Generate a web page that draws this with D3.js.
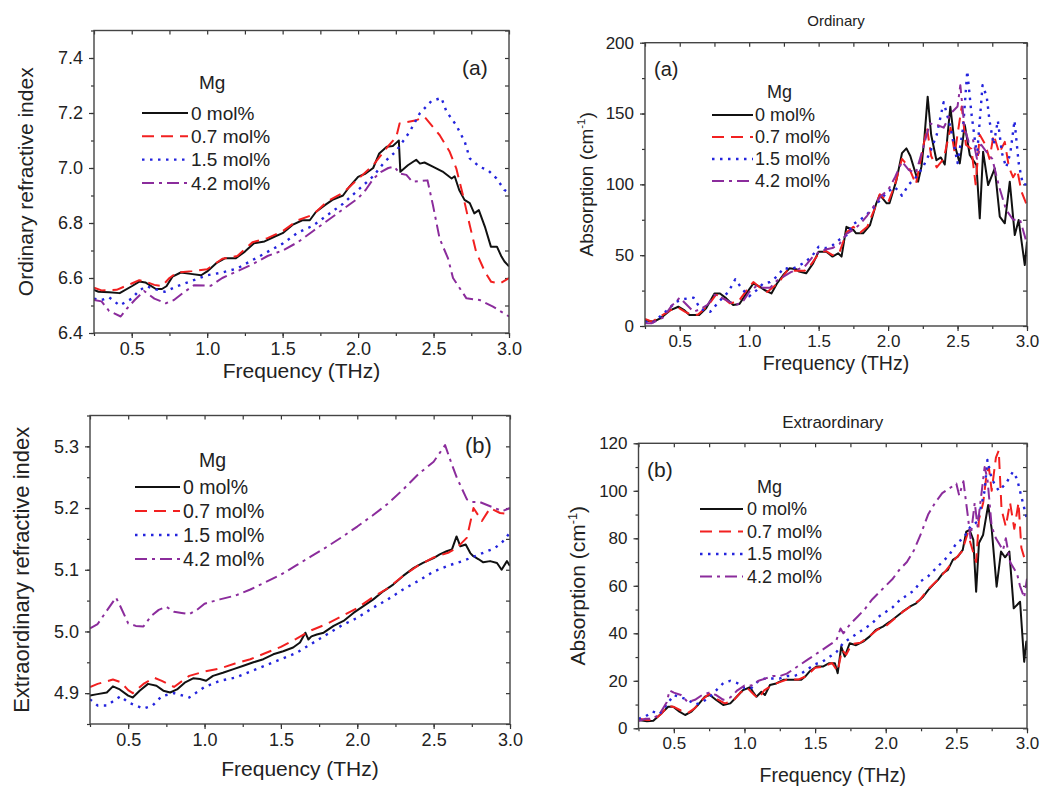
<!DOCTYPE html>
<html><head><meta charset="utf-8">
<script src="https://cdn.jsdelivr.net/npm/d3@7"></script>
<style>
body{margin:0;background:#fff;}
text{font-family:"Liberation Sans",Arial,sans-serif;fill:#222;}
</style></head>
<body><svg id="c" width="1046" height="789"></svg>
<script>
// ---------- DATA ----------
const seriesLabels = ['0 mol%','0.7 mol%','1.5 mol%','4.2 mol%'];
const xTicks = [0.5,1.0,1.5,2.0,2.5,3.0];
const p1YTicks = [6.4,6.6,6.8,7.0,7.2,7.4];
const p2YTicks = [0,50,100,150,200];
const p3YTicks = [4.9,5.0,5.1,5.2,5.3];
const p4YTicks = [0,20,40,60,80,100,120];

// Panel 1: ordinary refractive index [freq THz, n]
const ordIndex0 = [[0.25,6.557],[0.28,6.55],[0.35,6.548],[0.42,6.545],[0.5,6.57],[0.55,6.587],[0.59,6.584],[0.66,6.56],[0.7,6.56],[0.73,6.57],[0.77,6.605],[0.825,6.62],[0.89,6.615],[0.96,6.61],[1.0,6.624],[1.06,6.654],[1.12,6.672],[1.19,6.672],[1.25,6.696],[1.31,6.726],[1.38,6.733],[1.445,6.75],[1.5,6.763],[1.565,6.793],[1.63,6.81],[1.68,6.81],[1.72,6.84],[1.78,6.865],[1.83,6.884],[1.9,6.9],[1.94,6.93],[2.0,6.968],[2.05,6.98],[2.1,7.0],[2.14,7.053],[2.19,7.077],[2.23,7.08],[2.26,7.095],[2.27,7.1],[2.28,6.986],[2.33,7.01],[2.385,7.03],[2.41,7.016],[2.44,7.02],[2.495,7.005],[2.56,6.987],[2.62,6.962],[2.64,6.97],[2.67,6.92],[2.705,6.884],[2.74,6.872],[2.77,6.835],[2.8,6.847],[2.84,6.787],[2.88,6.714],[2.92,6.714],[2.95,6.678],[2.97,6.66],[3.0,6.642]];
const ordIndex07 = [[0.25,6.565],[0.3,6.555],[0.4,6.557],[0.5,6.58],[0.55,6.592],[0.6,6.585],[0.65,6.575],[0.7,6.57],[0.75,6.6],[0.8,6.62],[0.9,6.625],[1.0,6.632],[1.1,6.67],[1.2,6.68],[1.3,6.73],[1.4,6.745],[1.5,6.77],[1.6,6.81],[1.7,6.83],[1.8,6.88],[1.9,6.91],[2.0,6.96],[2.1,7.01],[2.2,7.08],[2.253,7.113],[2.275,7.162],[2.386,7.174],[2.44,7.186],[2.54,7.12],[2.607,7.059],[2.651,6.998],[2.695,6.901],[2.74,6.792],[2.782,6.695],[2.84,6.623],[2.882,6.586],[2.94,6.58],[3.0,6.6]];
const ordIndex15 = [[0.25,6.525],[0.3,6.52],[0.35,6.53],[0.42,6.50],[0.5,6.525],[0.55,6.555],[0.6,6.57],[0.65,6.56],[0.72,6.55],[0.8,6.57],[0.9,6.59],[1.0,6.61],[1.1,6.62],[1.2,6.635],[1.3,6.665],[1.4,6.695],[1.5,6.725],[1.6,6.765],[1.7,6.79],[1.8,6.83],[1.9,6.87],[2.0,6.92],[2.1,6.97],[2.175,7.022],[2.25,7.06],[2.341,7.131],[2.408,7.198],[2.485,7.243],[2.552,7.255],[2.585,7.206],[2.651,7.155],[2.707,7.095],[2.74,7.035],[2.806,7.004],[2.861,6.992],[2.917,6.962],[2.97,6.92],[3.0,6.91]];
const ordIndex42 = [[0.25,6.52],[0.3,6.515],[0.35,6.48],[0.427,6.46],[0.47,6.49],[0.52,6.52],[0.582,6.553],[0.65,6.525],[0.726,6.508],[0.78,6.52],[0.85,6.55],[0.914,6.574],[1.025,6.572],[1.1,6.6],[1.2,6.625],[1.3,6.65],[1.4,6.68],[1.5,6.70],[1.6,6.73],[1.7,6.77],[1.8,6.81],[1.9,6.85],[2.0,6.89],[2.05,6.92],[2.1,6.96],[2.15,6.985],[2.2,7.0],[2.24,7.005],[2.275,6.98],[2.32,6.975],[2.36,6.95],[2.46,6.955],[2.496,6.865],[2.54,6.744],[2.596,6.671],[2.629,6.6],[2.718,6.526],[2.806,6.52],[2.894,6.496],[3.0,6.46]];

// Panel 2: ordinary absorption [freq THz, cm-1]
const ordAbs0 = [[0.25,4],[0.31,3],[0.36,5.4],[0.43,11],[0.49,13.6],[0.535,11],[0.57,7.8],[0.64,7.8],[0.69,12.5],[0.75,23],[0.79,23],[0.835,19.5],[0.885,14.8],[0.93,15.5],[0.98,23],[1.03,30],[1.075,27.8],[1.11,25.4],[1.16,23],[1.2,30],[1.245,36],[1.29,40.7],[1.34,40],[1.36,38.4],[1.41,37.2],[1.46,44.2],[1.5,52.5],[1.555,52.5],[1.6,49],[1.64,51.3],[1.665,49],[1.7,70],[1.75,67.8],[1.77,65.4],[1.82,65.4],[1.87,71.3],[1.915,86.6],[1.94,92.5],[1.99,86.6],[2.01,86.6],[2.06,103],[2.1,122],[2.132,125.4],[2.16,120],[2.216,101.9],[2.24,112.5],[2.26,131],[2.285,161.9],[2.31,135],[2.348,117],[2.38,119],[2.408,114],[2.448,154.8],[2.48,127.7],[2.516,114.8],[2.552,141.9],[2.588,120.7],[2.636,113.6],[2.66,76],[2.684,123],[2.72,99.5],[2.768,111.3],[2.804,77.2],[2.84,72.5],[2.876,101.9],[2.912,64.2],[2.94,74.8],[2.984,43],[3.0,59.5]];
const ordAbs07 = [[0.25,5],[0.3,3],[0.35,6],[0.43,11],[0.49,13],[0.54,10],[0.58,8],[0.63,8],[0.7,14],[0.76,22],[0.8,21],[0.86,16],[0.92,17],[0.98,25],[1.03,31],[1.08,27],[1.13,24],[1.18,28],[1.23,33],[1.28,40],[1.33,39],[1.4,39],[1.45,44],[1.5,51],[1.55,53],[1.6,50],[1.65,52],[1.7,66],[1.75,70],[1.8,66],[1.85,70],[1.9,82],[1.94,93],[2.0,87],[2.05,100],[2.1,118],[2.15,112],[2.2,100],[2.25,125],[2.28,140],[2.31,120],[2.35,112],[2.4,118],[2.45,140],[2.48,122],[2.53,155],[2.56,128],[2.6,125],[2.63,100],[2.66,135],[2.7,128],[2.73,118],[2.76,135],[2.8,122],[2.84,130],[2.87,112],[2.9,105],[2.93,110],[2.96,95],[3.0,85]];
const ordAbs15 = [[0.25,3],[0.3,2],[0.35,6],[0.42,12],[0.47,17],[0.53,19],[0.6,20],[0.65,12],[0.72,10],[0.78,17],[0.85,24],[0.9,33],[0.95,26],[1.0,21],[1.05,25],[1.1,30],[1.15,31],[1.2,35],[1.25,41],[1.3,40],[1.35,42],[1.4,45],[1.45,49],[1.5,56],[1.55,55],[1.6,57],[1.65,61],[1.7,64],[1.75,72],[1.8,75],[1.85,79],[1.9,84],[1.95,90],[2.0,95],[2.05,98],[2.1,92],[2.15,100],[2.2,105],[2.25,112],[2.3,122],[2.35,135],[2.4,158],[2.45,140],[2.5,115],[2.54,140],[2.57,180],[2.6,150],[2.64,120],[2.68,170],[2.71,162],[2.73,145],[2.76,128],[2.79,145],[2.82,122],[2.85,112],[2.88,122],[2.91,145],[2.94,115],[2.97,100],[3.0,100]];
const ordAbs42 = [[0.25,2],[0.3,2],[0.38,6],[0.44,14],[0.5,20],[0.55,15],[0.6,10],[0.65,12],[0.7,15],[0.75,22],[0.8,20],[0.86,17],[0.91,15],[0.96,18],[1.0,24],[1.05,28],[1.1,27],[1.15,27],[1.2,32],[1.25,35],[1.3,38],[1.35,40],[1.4,42],[1.45,48],[1.5,52],[1.55,54],[1.6,55],[1.65,58],[1.7,65],[1.75,68],[1.8,72],[1.85,78],[1.9,85],[1.95,92],[2.0,96],[2.05,105],[2.1,116],[2.15,110],[2.2,108],[2.25,125],[2.3,143],[2.35,142],[2.4,140],[2.45,150],[2.5,155],[2.52,170],[2.55,140],[2.58,130],[2.61,132],[2.64,118],[2.67,128],[2.7,124],[2.75,118],[2.8,98],[2.85,82],[2.9,75],[2.95,75],[3.0,58]];

// Panel 3: extraordinary refractive index
const extIndex0 = [[0.25,4.896],[0.29,4.898],[0.36,4.901],[0.4,4.911],[0.445,4.906],[0.5,4.896],[0.53,4.893],[0.575,4.904],[0.63,4.915],[0.685,4.912],[0.73,4.904],[0.775,4.901],[0.82,4.906],[0.87,4.917],[0.925,4.924],[0.97,4.923],[1.01,4.92],[1.055,4.928],[1.12,4.933],[1.19,4.939],[1.25,4.944],[1.32,4.95],[1.385,4.955],[1.45,4.963],[1.515,4.968],[1.58,4.974],[1.625,4.982],[1.66,4.998],[1.68,4.987],[1.7,4.992],[1.735,4.995],[1.78,4.998],[1.845,5.009],[1.91,5.017],[1.975,5.03],[2.04,5.041],[2.105,5.052],[2.17,5.065],[2.235,5.076],[2.3,5.09],[2.37,5.103],[2.43,5.111],[2.5,5.119],[2.54,5.125],[2.585,5.13],[2.62,5.133],[2.65,5.154],[2.675,5.138],[2.71,5.141],[2.74,5.127],[2.76,5.122],[2.795,5.117],[2.825,5.112],[2.87,5.114],[2.915,5.111],[2.945,5.1],[2.98,5.114],[3.0,5.106]];
const extIndex07 = [[0.25,4.91],[0.3,4.915],[0.4,4.922],[0.45,4.918],[0.5,4.905],[0.53,4.9],[0.6,4.915],[0.67,4.925],[0.72,4.92],[0.8,4.91],[0.9,4.928],[1.0,4.935],[1.1,4.94],[1.2,4.948],[1.3,4.955],[1.4,4.965],[1.5,4.975],[1.6,4.988],[1.7,5.002],[1.8,5.012],[1.9,5.025],[2.0,5.038],[2.1,5.055],[2.2,5.07],[2.3,5.09],[2.4,5.107],[2.5,5.12],[2.6,5.128],[2.65,5.135],[2.718,5.152],[2.761,5.2],[2.816,5.179],[2.87,5.2],[2.935,5.192],[3.0,5.19]];
const extIndex15 = [[0.25,4.89],[0.3,4.88],[0.36,4.88],[0.45,4.895],[0.5,4.885],[0.55,4.88],[0.6,4.875],[0.66,4.88],[0.72,4.895],[0.8,4.9],[0.9,4.893],[1.0,4.91],[1.1,4.92],[1.2,4.925],[1.3,4.935],[1.4,4.945],[1.5,4.955],[1.6,4.965],[1.7,4.98],[1.8,4.995],[1.9,5.01],[2.0,5.022],[2.1,5.038],[2.2,5.052],[2.3,5.068],[2.4,5.082],[2.5,5.097],[2.6,5.107],[2.7,5.115],[2.8,5.125],[2.9,5.135],[2.95,5.145],[3.0,5.16]];
const extIndex42 = [[0.25,5.005],[0.3,5.012],[0.35,5.03],[0.42,5.055],[0.45,5.04],[0.5,5.013],[0.55,5.009],[0.6,5.008],[0.65,5.025],[0.7,5.035],[0.75,5.04],[0.8,5.032],[0.85,5.03],[0.9,5.028],[0.95,5.035],[1.0,5.045],[1.1,5.052],[1.2,5.058],[1.3,5.068],[1.4,5.08],[1.5,5.092],[1.6,5.107],[1.7,5.122],[1.8,5.137],[1.9,5.153],[2.0,5.17],[2.1,5.188],[2.2,5.207],[2.3,5.23],[2.4,5.255],[2.5,5.275],[2.575,5.302],[2.62,5.27],[2.652,5.249],[2.718,5.214],[2.75,5.21],[2.8,5.21],[2.85,5.205],[2.9,5.2],[2.95,5.195],[3.0,5.2]];

// Panel 4: extraordinary absorption
const extAbs0 = [[0.25,3.5],[0.31,3],[0.355,3.2],[0.4,5.6],[0.46,9.1],[0.495,9.1],[0.54,7],[0.58,5.6],[0.625,7],[0.67,9.8],[0.72,13.3],[0.755,14],[0.8,11.9],[0.85,9.8],[0.9,10.5],[0.945,13.3],[0.99,16.1],[1.04,17.3],[1.06,15.4],[1.085,13.3],[1.12,15.4],[1.145,14],[1.18,18.2],[1.225,18.9],[1.275,20.4],[1.345,20.4],[1.4,20.4],[1.43,21.8],[1.46,23.9],[1.51,26],[1.555,26],[1.6,27.4],[1.64,27.4],[1.66,23.2],[1.685,34.4],[1.71,30.2],[1.745,35.8],[1.79,35],[1.84,36.5],[1.885,38.6],[1.93,41.4],[1.98,42.8],[2.03,44.9],[2.075,47],[2.12,49.1],[2.17,51.2],[2.215,52.6],[2.265,55.4],[2.3,58.2],[2.335,60.4],[2.37,62.5],[2.405,65.3],[2.44,66.7],[2.475,70.9],[2.51,72.3],[2.545,75.1],[2.57,82.8],[2.594,83.5],[2.62,79.3],[2.64,57.5],[2.66,78],[2.689,81.4],[2.725,94],[2.75,84],[2.785,59.6],[2.816,74.4],[2.845,72],[2.875,74.4],[2.906,50.5],[2.951,53.3],[2.98,28],[2.995,36.5],[3.0,33]];
const extAbs07 = [[0.25,4],[0.31,3.5],[0.36,3.5],[0.41,6],[0.46,9.5],[0.5,9],[0.55,7.5],[0.6,6.5],[0.65,8.5],[0.7,12],[0.75,14.5],[0.8,12.5],[0.86,10.5],[0.92,11.5],[0.97,15],[1.02,17],[1.07,14],[1.1,12.5],[1.14,16],[1.18,17.5],[1.23,19],[1.3,20.5],[1.38,20.5],[1.44,22],[1.5,25.5],[1.56,26],[1.62,27.5],[1.66,24],[1.69,33],[1.72,31],[1.76,35.5],[1.82,36],[1.88,38.5],[1.94,41.5],[2.0,43],[2.06,46],[2.12,49],[2.18,51.5],[2.24,54],[2.3,58.5],[2.36,62],[2.42,66],[2.48,70.5],[2.54,74.5],[2.58,82],[2.61,76],[2.64,70],[2.66,88],[2.69,95],[2.71,105],[2.73,110],[2.75,100],[2.78,114],[2.8,117],[2.82,92],[2.85,85],[2.88,95],[2.91,84],[2.94,95],[2.96,76],[2.98,72],[3.0,70]];
const extAbs15 = [[0.25,4],[0.3,5],[0.35,7],[0.4,6],[0.45,10],[0.5,14],[0.55,13],[0.6,12],[0.65,10],[0.7,11],[0.75,13],[0.8,16],[0.85,19],[0.9,20],[0.95,19],[1.0,17],[1.05,17],[1.1,20],[1.15,21],[1.2,21],[1.25,21],[1.3,22],[1.35,22],[1.4,23],[1.45,25],[1.5,27],[1.55,28],[1.6,30],[1.65,32],[1.7,36],[1.75,38],[1.8,40],[1.85,42],[1.9,44],[1.95,47],[2.0,49],[2.05,51],[2.1,54],[2.15,56],[2.2,58],[2.25,62],[2.3,64],[2.35,67],[2.4,70],[2.45,73],[2.5,78],[2.55,80],[2.6,85],[2.65,87],[2.7,100],[2.72,113],[2.75,105],[2.8,100],[2.85,103],[2.9,108],[2.93,105],[2.95,100],[3.0,88]];
const extAbs42 = [[0.25,3],[0.3,4],[0.35,4],[0.4,6],[0.45,11],[0.47,16],[0.5,15],[0.55,14],[0.6,11],[0.65,12],[0.7,14],[0.75,15],[0.8,14],[0.85,12],[0.9,13],[0.95,16],[1.0,18],[1.05,18],[1.1,20],[1.15,21],[1.2,22],[1.25,22],[1.3,23],[1.35,25],[1.4,27],[1.45,29],[1.5,31],[1.55,33],[1.6,35],[1.65,37],[1.68,42],[1.7,40],[1.75,44],[1.8,47],[1.85,50],[1.9,54],[1.95,57],[2.0,60],[2.05,63],[2.1,67],[2.15,70],[2.2,75],[2.25,82],[2.3,90],[2.35,95],[2.4,99],[2.45,101],[2.5,103],[2.52,98],[2.55,104],[2.58,90],[2.6,80],[2.63,95],[2.65,85],[2.68,100],[2.7,110],[2.72,105],[2.75,85],[2.78,80],[2.8,78],[2.83,75],[2.85,80],[2.88,70],[2.9,68],[2.93,65],[2.95,60],[2.98,55],[3.0,63]];

// ---------- STYLE / LAYOUT ----------
const styles = [
  {color:'#111111', dash:null, w:2},
  {color:'#f22020', dash:'12,7', w:2},
  {color:'#2424dd', dash:'2.5,5.5', w:2.4},
  {color:'#8b2c9c', dash:'12,5,3,5', w:2}
];

const panels = [
  {L:94,R:509,T:30.5,B:333, yDom:[6.4,7.5], yTicks:p1YTicks, yMinorStep:0.1, fmt:'.1f',
   series:[ordIndex0,ordIndex07,ordIndex15,ordIndex42],
   ytitle:'Ordinary refractive index', ytx:26, yts:21, xtY:378, xts:21, tickFs:18,
   tag:'(a)', tagX:462, tagY:75, tagFs:21,
   leg:{mgX:199,mgY:89,x1:142,x2:188,tx:191,y0:113,dy:23.3,fs:19}},
  {L:645,R:1027,T:42.7,B:326, yDom:[0,200], yTicks:p2YTicks, yMinorStep:25, fmt:'d',
   series:[ordAbs0,ordAbs07,ordAbs15,ordAbs42],
   ytitle:'Absorption (cm', sup:true, ytx:586, yts:19, xtY:370, xts:19.5, tickFs:17,
   title:'Ordinary', titleY:26, titleFs:15,
   tag:'(a)', tagX:654, tagY:76, tagFs:20,
   leg:{mgX:767,mgY:98,x1:712,x2:753,tx:755,y0:115,dy:22,fs:18}},
  {L:90,R:510,T:415.5,B:724, yDom:[4.85,5.35], yTicks:p3YTicks, yMinorStep:0.05, fmt:'.1f',
   series:[extIndex0,extIndex07,extIndex15,extIndex42],
   ytitle:'Extraordinary refractive index', ytx:21, yts:22, xtY:776, xts:21, tickFs:18,
   tag:'(b)', tagX:465, tagY:453, tagFs:22,
   leg:{mgX:199,mgY:467,x1:135,x2:180,tx:183,y0:487,dy:24,fs:19.5}},
  {L:638.5,R:1027,T:443.3,B:728.3, yDom:[0,120], yTicks:p4YTicks, yMinorStep:10, fmt:'d',
   series:[extAbs0,extAbs07,extAbs15,extAbs42],
   ytitle:'Absorption (cm', sup:true, ytx:578, yts:21, xtY:782, xts:19.5, tickFs:17,
   title:'Extraordinary', titleY:428, titleFs:17,
   tag:'(b)', tagX:647, tagY:477, tagFs:21,
   leg:{mgX:757,mgY:493,x1:700,x2:743,tx:747,y0:509,dy:22.5,fs:18}}
];

const svg = d3.select('#c');
const xMinor = d3.range(0.25, 3.0001, 0.25);

panels.forEach((p, i) => {
  const x = d3.scaleLinear().domain([0.25, 3.0]).range([p.L, p.R]);
  const y = d3.scaleLinear().domain(p.yDom).range([p.B, p.T]);
  const g = svg.append('g');
  const yMinor = d3.range(p.yDom[0], p.yDom[1] + p.yMinorStep/2, p.yMinorStep);
  const fmt = d3.format(p.fmt);
  const styleAxis = sel => {
    sel.select('.domain').remove();
    sel.selectAll('line').attr('stroke', '#333').attr('stroke-width', 1.2);
    sel.selectAll('text').style('font-size', p.tickFs + 'px').attr('fill', '#222')
      .style('font-family', '"Liberation Sans",Arial,sans-serif');
  };
  // bottom
  g.append('g').attr('transform', `translate(0,${p.B})`)
    .call(d3.axisBottom(x).tickValues(xMinor).tickSize(3).tickFormat('')).call(styleAxis);
  g.append('g').attr('transform', `translate(0,${p.B})`)
    .call(d3.axisBottom(x).tickValues(xTicks).tickSize(5).tickPadding(4).tickFormat(d3.format('.1f'))).call(styleAxis);
  // top (inward)
  g.append('g').attr('transform', `translate(0,${p.T})`)
    .call(d3.axisTop(x).tickValues(xMinor).tickSize(-4).tickFormat('')).call(styleAxis);
  // left
  g.append('g').attr('transform', `translate(${p.L},0)`)
    .call(d3.axisLeft(y).tickValues(yMinor).tickSize(3).tickFormat('')).call(styleAxis);
  g.append('g').attr('transform', `translate(${p.L},0)`)
    .call(d3.axisLeft(y).tickValues(p.yTicks).tickSize(5).tickPadding(6).tickFormat(fmt)).call(styleAxis);
  // right (inward)
  g.append('g').attr('transform', `translate(${p.R},0)`)
    .call(d3.axisRight(y).tickValues(yMinor).tickSize(-4).tickFormat('')).call(styleAxis);

  // clip
  const cid = 'clip' + i;
  svg.append('clipPath').attr('id', cid).append('rect')
    .attr('x', p.L).attr('y', p.T).attr('width', p.R - p.L).attr('height', p.B - p.T);

  const line = d3.line().x(d => x(d[0])).y(d => y(d[1]));
  const lg = g.append('g').attr('clip-path', `url(#${cid})`);
  // draw purple, blue, red first, black on top? keep order similar to origin: black first
  p.series.forEach((s, k) => {
    const st = styles[k];
    lg.append('path').datum(s).attr('d', line).attr('fill', 'none')
      .attr('stroke', st.color).attr('stroke-width', st.w)
      .attr('stroke-linejoin', 'round')
      .attr('stroke-dasharray', st.dash);
  });

  // frame
  g.append('rect').attr('x', p.L).attr('y', p.T).attr('width', p.R - p.L).attr('height', p.B - p.T)
    .attr('fill', 'none').attr('stroke', '#444').attr('stroke-width', 1.4);

  // x title
  g.append('text').attr('x', (p.L + p.R) / 2).attr('y', p.xtY).attr('text-anchor', 'middle')
    .style('font-size', p.xts + 'px').text('Frequency (THz)');
  // y title
  const yt = g.append('text')
    .attr('transform', `translate(${p.ytx},${(p.T + p.B) / 2}) rotate(-90)`)
    .attr('text-anchor', 'middle').attr('dy', '0.35em')
    .style('font-size', p.yts + 'px').text(p.ytitle);
  if (p.sup) {
    yt.append('tspan').attr('dy', -p.yts * 0.38).style('font-size', (p.yts * 0.6) + 'px').text('-1');
    yt.append('tspan').attr('dy', p.yts * 0.38).text(')');
  }
  if (p.title) {
    g.append('text').attr('x', (p.L + p.R) / 2).attr('y', p.titleY).attr('text-anchor', 'middle')
      .style('font-size', p.titleFs + 'px').text(p.title);
  }
  g.append('text').attr('x', p.tagX).attr('y', p.tagY).style('font-size', p.tagFs + 'px').text(p.tag);

  // legend
  const L = p.leg;
  g.append('text').attr('x', L.mgX).attr('y', L.mgY).style('font-size', L.fs + 'px').text('Mg');
  seriesLabels.forEach((lab, k) => {
    const st = styles[k];
    const yy = L.y0 + k * L.dy;
    g.append('line').attr('x1', L.x1).attr('x2', L.x2).attr('y1', yy).attr('y2', yy)
      .attr('stroke', st.color).attr('stroke-width', st.w).attr('stroke-dasharray', st.dash);
    g.append('text').attr('x', L.tx).attr('y', yy).attr('dy', '0.35em')
      .style('font-size', L.fs + 'px').text(lab);
  });
});
</script></body></html>
